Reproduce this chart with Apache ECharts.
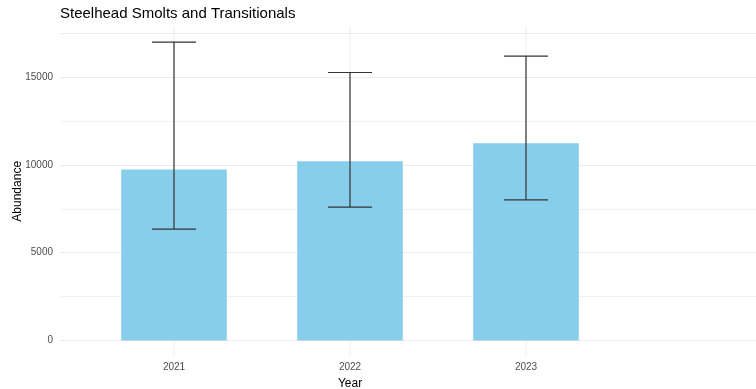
<!DOCTYPE html>
<html>
<head>
<meta charset="utf-8">
<script src="https://cdn.jsdelivr.net/npm/echarts@6/dist/echarts.min.js"></script>
<style>
  html, body { margin: 0; padding: 0; background: #fff; }
  #chart { width: 756px; height: 389px; }
</style>
</head>
<body>
<div id="chart"></div>
<script>
// Steelhead smolt + transitional abundance estimates with confidence bounds
const years = ['2021', '2022', '2023'];
const abundance = [9745, 10210, 11240];
const lowerBound = [6350, 7600, 8015];
const upperBound = [17000, 15270, 16200];
const yTicks = [0, 5000, 10000, 15000];

const FONT = '"Liberation Sans", Arial, sans-serif';
const GRID_MAJOR = '#ebebeb';
const GRID_MINOR = '#f2f2f2';

const errorData = years.map((y, i) => [i, lowerBound[i], upperBound[i]]);
const yearIndex = years.map((y, i) => [i]);

const chart = echarts.init(document.getElementById('chart'), null, { renderer: 'canvas' });

chart.setOption({
  animation: false,
  backgroundColor: '#ffffff',
  title: {
    text: 'Steelhead Smolts and Transitionals',
    left: 60,
    top: 6,
    padding: 0,
    textStyle: { fontFamily: FONT, fontSize: 15, fontWeight: 'normal', color: '#000' }
  },
  grid: [
    // background panel: horizontal grid lines and y tick labels
    { left: 60, right: 0, top: 33.3, bottom: 48.5, containLabel: false, outerBoundsMode: 'none' },
    // data panel: bars, error bars, vertical grid lines
    { left: 86, right: 142, top: 27.2, bottom: 33.6, containLabel: false, outerBoundsMode: 'none' }
  ],
  xAxis: [
    { gridIndex: 0, type: 'value', show: false, min: 0, max: 1 },
    {
      gridIndex: 1,
      type: 'category',
      data: years,
      boundaryGap: true,
      axisLine: { show: false },
      axisTick: { show: false },
      splitLine: { show: false },
      axisLabel: { fontFamily: FONT, fontSize: 10, color: '#4d4d4d', margin: 7 },
      name: 'Year',
      nameLocation: 'middle',
      nameGap: 19,
      nameTextStyle: { fontFamily: FONT, fontSize: 12, color: '#000' }
    }
  ],
  yAxis: [
    {
      gridIndex: 0,
      type: 'value',
      min: 0,
      max: 17500,
      interval: 5000,
      axisLine: { show: false },
      axisTick: { show: false },
      axisLabel: {
        fontFamily: FONT, fontSize: 10, color: '#4d4d4d', margin: 7,
        formatter: v => (yTicks.includes(v) ? String(v) : '')
      },
      splitLine: { show: true, lineStyle: { color: GRID_MAJOR, width: 1 } },
      minorTick: { show: false, splitNumber: 2 },
      minorSplitLine: { show: true, lineStyle: { color: GRID_MINOR, width: 1 } }
    },
    {
      gridIndex: 1,
      type: 'value',
      min: -850,
      max: 17850,
      axisLine: { show: false },
      axisTick: { show: false },
      axisLabel: { show: false },
      splitLine: { show: false },
      name: 'Abundance',
      nameLocation: 'middle',
      nameRotate: 90,
      nameGap: 62,
      nameTextStyle: { fontFamily: FONT, fontSize: 12, color: '#000' }
    }
  ],
  series: [
    {
      // vertical major grid lines at each year, spanning the whole panel
      type: 'custom',
      xAxisIndex: 1,
      yAxisIndex: 1,
      data: yearIndex,
      z: 1,
      silent: true,
      renderItem: function (params, api) {
        const x = api.coord([api.value(0), 0])[0];
        const cs = params.coordSys;
        return {
          type: 'line',
          shape: { x1: x, y1: cs.y, x2: x, y2: cs.y + cs.height },
          style: { stroke: GRID_MAJOR, lineWidth: 1 }
        };
      }
    },
    {
      type: 'bar',
      xAxisIndex: 1,
      yAxisIndex: 1,
      data: abundance,
      barWidth: '60%',
      itemStyle: { color: '#87CEEB' },
      z: 2
    },
    {
      type: 'custom',
      xAxisIndex: 1,
      yAxisIndex: 1,
      data: errorData,
      z: 3,
      renderItem: function (params, api) {
        const x = api.value(0);
        const lo = api.coord([x, api.value(1)]);
        const hi = api.coord([x, api.value(2)]);
        const half = api.size([1, 0])[0] * 0.25 / 2;
        const style = { stroke: '#333333', lineWidth: 1.2 };
        return {
          type: 'group',
          children: [
            { type: 'line', shape: { x1: lo[0], y1: lo[1], x2: hi[0], y2: hi[1] }, style },
            { type: 'line', shape: { x1: hi[0] - half, y1: hi[1], x2: hi[0] + half, y2: hi[1] }, style },
            { type: 'line', shape: { x1: lo[0] - half, y1: lo[1], x2: lo[0] + half, y2: lo[1] }, style }
          ]
        };
      }
    }
  ]
});
</script>
</body>
</html>
